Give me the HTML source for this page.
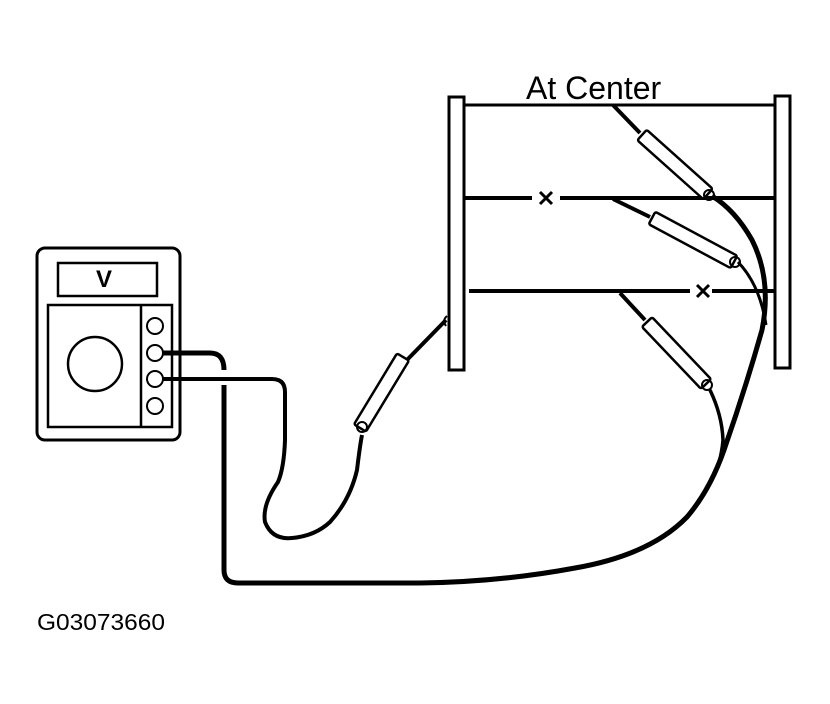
<!DOCTYPE html>
<html><head><style>body{margin:0;background:#fff}svg{display:block}</style></head><body>
<svg width="830" height="704" viewBox="0 0 830 704" xmlns="http://www.w3.org/2000/svg">
<rect width="830" height="704" fill="#fff"/>
<g fill="none" stroke="#000">
<!-- meter -->
<rect x="37" y="248" width="143" height="192" rx="8" stroke-width="3"/>
<rect x="58" y="263" width="99" height="33" stroke-width="2.5"/>
<rect x="48" y="305" width="124" height="122" stroke-width="2.5"/>
<line x1="141" y1="305" x2="141" y2="427" stroke-width="2.5"/>
<circle cx="95" cy="364" r="27" stroke-width="2.5"/>
<circle cx="155" cy="326" r="8" stroke-width="2"/>
<circle cx="155" cy="353" r="8" stroke-width="2"/>
<circle cx="155" cy="379" r="8" stroke-width="2"/>
<circle cx="155" cy="406" r="8" stroke-width="2"/>
<!-- meter wires -->
<path d="M163 353 H210 Q224 353 224 370" stroke-width="5"/>
<path d="M163 379 H272 Q285 379 285 392 V440 Q284 468 278 482 Q262 505 265 522 Q272 540 292 538 Q315 536 330 522 Q350 500 357 470 Q360 445 362 435" stroke-width="4"/>
<!-- outer cable -->
<path d="M224 385 V570 Q224 583 238 583 H420 Q500 582 575 568 Q650 555 687 517 Q710 490 724 450 Q745 390 762 330 Q772 280 752 240 Q735 210 712 196" stroke-width="5"/>
<path d="M710 390 Q722 415 723 440 Q722 452 719 462" stroke-width="3.5"/>
<path d="M738 262 Q760 285 766 325" stroke-width="3"/>
<!-- frame -->
<rect x="449" y="97" width="15" height="273" stroke-width="3"/>
<rect x="775" y="96" width="15" height="272" stroke-width="3"/>
<line x1="464" y1="105" x2="775" y2="105" stroke-width="3"/>
<path d="M464 198 H532 M560 198 H775" stroke-width="4"/>
<path d="M540 192 L552 204 M552 192 L540 204" stroke-width="3"/>
<path d="M469 291 H690 M712 291 H775" stroke-width="4"/>
<path d="M697 285 L709 297 M709 285 L697 297" stroke-width="3"/>
<!-- probe tips -->
<line x1="613" y1="105" x2="640" y2="133" stroke-width="4"/>
<line x1="613" y1="199" x2="650" y2="217" stroke-width="4"/>
<line x1="620" y1="293" x2="645" y2="320" stroke-width="4"/>
<line x1="446" y1="320" x2="405" y2="362" stroke-width="4"/>
</g>
<!-- probe handles -->
<g fill="#fff" stroke="#000" stroke-width="2.5">
<rect x="0" y="-7" width="88.5" height="14" rx="2" transform="translate(642,135) rotate(41.8)"/>
<rect x="0" y="-7" width="93" height="14" rx="2" transform="translate(652,218) rotate(28.2)"/>
<rect x="0" y="-7" width="85.6" height="14" rx="2" transform="translate(647,322) rotate(46.4)"/>
<rect x="0" y="-7" width="83" height="14" rx="2" transform="translate(403,357) rotate(121.2)"/>
</g>
<g fill="none" stroke="#000" stroke-width="2">
<circle cx="709" cy="195" r="5"/><circle cx="735" cy="262" r="5"/>
<circle cx="707" cy="385" r="5"/><circle cx="362" cy="427" r="5"/>
<path d="M447 316 Q442 320 446 326"/>
</g>
<text x="526" y="99" font-family="Liberation Sans, sans-serif" font-size="32">At Center</text>
<text x="96" y="287" font-family="Liberation Sans, sans-serif" font-size="24" font-weight="bold">V</text>
<text x="37" y="630" font-family="Liberation Sans, sans-serif" font-size="23" textLength="128" lengthAdjust="spacingAndGlyphs">G03073660</text>
</svg>
</body></html>
